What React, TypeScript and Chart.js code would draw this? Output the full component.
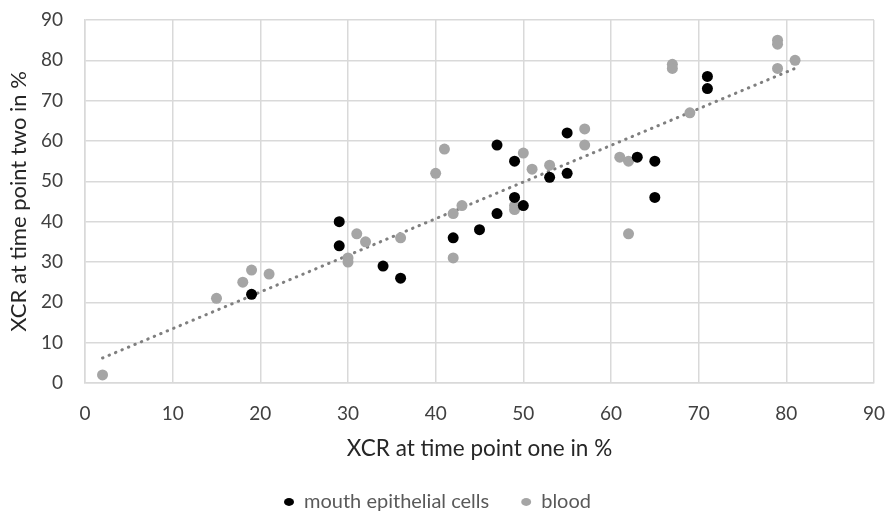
import React, { useEffect, useRef } from "react";
import { Chart, registerables } from "chart.js";
Chart.register(...registerables);

const mouthX = [19, 29, 29, 34, 36, 42, 45, 47, 47, 49, 49, 50, 53, 55, 55, 63, 65, 65, 71, 71];
const mouthY = [22, 40, 34, 29, 26, 36, 38, 42, 59, 55, 46, 44, 51, 62, 52, 56, 55, 46, 76, 73];
const bloodX = [2, 15, 18, 19, 21, 30, 30, 31, 32, 36, 40, 41, 42, 42, 43, 49, 49, 50, 51, 53, 57, 57, 61, 62, 62, 67, 67, 69, 79, 79, 79, 81];
const bloodY = [2, 21, 25, 28, 27, 31, 30, 37, 35, 36, 52, 58, 42, 31, 44, 43, 44, 57, 53, 54, 63, 59, 56, 55, 37, 79, 78, 67, 85, 84, 78, 80];
const trendX = [2, 81];
const trendY = [6.2, 78];
const xTitle = "XCR at time point one in %";
const yTitle = "XCR at time point two in %";
const seriesNames = ["mouth epithelial cells", "blood"];

const FONT = "Lato";
const TEXT = "#404040";

export default function App() {
  const ref = useRef<HTMLCanvasElement | null>(null);
  useEffect(() => {
    if (!ref.current) return;
    const toPts = (xs: number[], ys: number[]) => xs.map((x, i) => ({ x, y: ys[i] }));
    const chart = new Chart(ref.current, {
      type: "scatter",
      data: {
        datasets: [
          {
            label: seriesNames[0],
            data: toPts(mouthX, mouthY),
            backgroundColor: "#000000",
            borderColor: "#000000",
            pointRadius: 5.5,
            borderWidth: 0,
            order: 0,
          },
          {
            label: seriesNames[1],
            data: toPts(bloodX, bloodY),
            backgroundColor: "#a5a5a5",
            borderColor: "#a5a5a5",
            pointRadius: 5.5,
            borderWidth: 0,
            order: 1,
          },
          {
            label: "trend",
            type: "line",
            data: toPts(trendX, trendY),
            showLine: true,
            borderColor: "#7f7f7f",
            borderWidth: 3,
            borderDash: [0.5, 6.5],
            borderCapStyle: "round",
            pointRadius: 0,
            fill: false,
            order: 2,
          } as any,
        ],
      },
      options: {
        animation: false,
        responsive: true,
        maintainAspectRatio: false,
        events: [],
        layout: { autoPadding: false, padding: { left: 0, right: 14, top: 20, bottom: -5 } },
        plugins: {
          tooltip: { enabled: false },
          legend: {
            position: "bottom",
            labels: {
              filter: (item: any) => item.text !== "trend",
              usePointStyle: true,
              pointStyle: "circle",
              pointStyleWidth: 10,
              boxHeight: 5.5,
              padding: 32,
              color: "#595959",
              font: { family: FONT, size: 20 },
            },
          },
        },
        scales: {
          x: {
            type: "linear",
            min: 0,
            max: 90,
            ticks: { stepSize: 10, color: TEXT, padding: 4, font: { family: FONT, size: 19 } },
            grid: { color: "#d9d9d9", lineWidth: 1.5, drawTicks: true, tickLength: 15, tickColor: "rgba(0,0,0,0)" },
            border: { color: "#d9d9d9", width: 1.5 },
            title: { display: true, text: xTitle, color: "#262626", font: { family: FONT, size: 22.5 }, padding: { top: 0, bottom: -2 } },
            afterFit: (s: any) => { s.height = 77; },
          },
          y: {
            type: "linear",
            min: 0,
            max: 90,
            ticks: { stepSize: 10, color: TEXT, padding: 4, font: { family: FONT, size: 19 } },
            grid: { color: "#d9d9d9", lineWidth: 1.5, drawTicks: true, tickLength: 18, tickColor: "rgba(0,0,0,0)" },
            border: { color: "#d9d9d9", width: 1.5 },
            title: { display: true, text: yTitle, color: "#262626", font: { family: FONT, size: 22 }, padding: { top: 6, bottom: 0 } },
            afterFit: (s: any) => { s.width = 85; },
          },
        },
      },
    });
    return () => chart.destroy();
  }, []);
  return (
    <div style={{ position: "absolute", left: 0, top: 0, width: 889, height: 517, background: "#fff" }}>
      <canvas ref={ref} />
    </div>
  );
}
